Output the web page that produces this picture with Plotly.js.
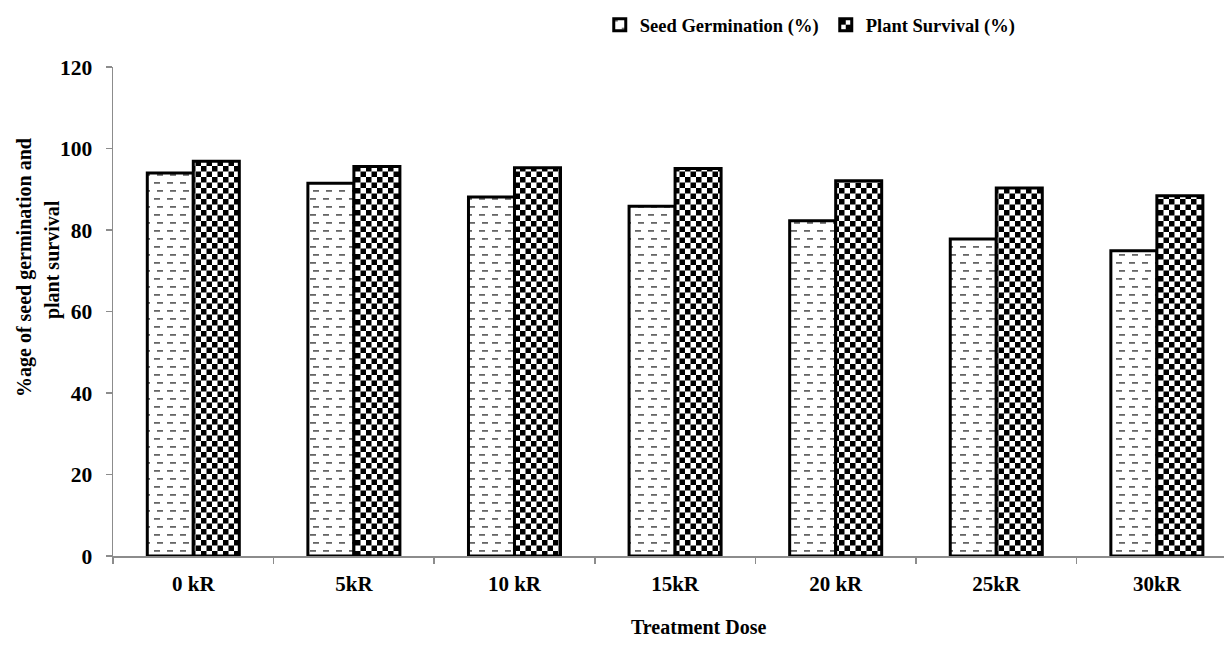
<!DOCTYPE html>
<html>
<head>
<meta charset="utf-8">
<script src="https://cdn.plot.ly/plotly-3.0.1.min.js"></script>
<style>html,body{margin:0;padding:0;background:#fff;}#chart{width:1224px;height:645px;}</style>
</head>
<body>
<div id="chart"></div>
<script>
const categories = ["0 kR", "5kR", "10 kR", "15kR", "20 kR", "25kR", "30kR"];
const seedGermination = [94.0, 91.5, 88.1, 85.8, 82.3, 77.8, 74.9];
const plantSurvival = [96.9, 95.6, 95.3, 95.1, 92.1, 90.3, 88.4];
const yTicks = [0, 20, 40, 60, 80, 100, 120];
const seriesNames = ["Seed Germination (%)", "Plant Survival (%)"];
const yTitleLines = ["%age of seed germination and", "plant survival"];
const xTitle = "Treatment Dose";

const FONT = "Liberation Serif, Times New Roman, serif";

const traces = [
  {
    type: "bar",
    name: seriesNames[0],
    x: categories,
    y: seedGermination,
    marker: {
      color: "#ffffff",
      line: {color: "#000000", width: 3},
      pattern: {shape: "-", fgcolor: "#777777", bgcolor: "#ffffff", size: 8, solidity: 0.15, fillmode: "overlay"}
    },
    hoverinfo: "skip"
  },
  {
    type: "bar",
    name: seriesNames[1],
    x: categories,
    y: plantSurvival,
    marker: {
      color: "#ffffff",
      line: {color: "#000000", width: 3},
      pattern: {shape: ".", fgcolor: "#000000", bgcolor: "#ffffff", size: 7, solidity: 0.45, fillmode: "overlay"}
    },
    hoverinfo: "skip"
  }
];

const titleFont = {family: FONT, size: 20, color: "#000000", weight: "bold"};

const layout = {
  width: 1224,
  height: 645,
  margin: {l: 113, r: 0, t: 67, b: 89, pad: 0},
  paper_bgcolor: "#ffffff",
  plot_bgcolor: "#ffffff",
  barmode: "group",
  bargap: 0.427,
  bargroupgap: 0,
  font: {family: FONT, color: "#000000"},
  showlegend: true,
  legend: {
    orientation: "h",
    xref: "container", yref: "container",
    x: 0.49, y: 0.961, xanchor: "left", yanchor: "middle",
    font: {family: FONT, size: 18.5, color: "#000000", weight: "bold"},
    bgcolor: "rgba(0,0,0,0)",
    entrywidth: 181,
    itemwidth: 30,
    traceorder: "normal"
  },
  xaxis: {
    type: "category",
    range: [-0.5, 6.418],
    showline: true,
    linecolor: "#8c8c8c",
    linewidth: 1.5,
    ticks: "outside",
    tickson: "boundaries",
    ticklen: 6,
    tickcolor: "#8c8c8c",
    tickwidth: 1.5,
    ticklabelstandoff: 8,
    showgrid: false,
    zeroline: false,
    tickfont: {family: FONT, size: 21, color: "#000000", weight: "bold"}
  },
  yaxis: {
    range: [0, 120],
    tickvals: yTicks,
    ticktext: yTicks.map(String),
    showline: true,
    linecolor: "#8c8c8c",
    linewidth: 1.5,
    ticks: "outside",
    ticklen: 6,
    tickcolor: "#8c8c8c",
    tickwidth: 1.5,
    ticklabelstandoff: 9,
    showgrid: false,
    zeroline: false,
    tickfont: {family: FONT, size: 21.5, color: "#000000", weight: "bold"}
  },
  annotations: [
    {text: yTitleLines[0], xref: "paper", yref: "paper", x: -0.0792, y: 0.589, textangle: -90,
     xanchor: "center", yanchor: "middle", showarrow: false, font: titleFont},
    {text: yTitleLines[1], xref: "paper", yref: "paper", x: -0.0545, y: 0.606, textangle: -90,
     xanchor: "center", yanchor: "middle", showarrow: false, font: titleFont},
    {text: xTitle, xref: "paper", yref: "paper", x: 0.527, y: -0.145,
     xanchor: "center", yanchor: "middle", showarrow: false, font: titleFont}
  ]
};

const SVGNS = "http://www.w3.org/2000/svg";
function el(tag, attrs, parent) {
  const e = document.createElementNS(SVGNS, tag);
  for (const k in attrs) e.setAttribute(k, attrs[k]);
  if (parent) parent.appendChild(e);
  return e;
}

Plotly.newPlot("chart", traces, layout, {displayModeBar: false, staticPlot: true}).then(function (gd) {
  const svg = gd.querySelector("svg.main-svg");
  let defs = svg.querySelector("defs");
  if (!defs) defs = el("defs", {}, svg);

  // checkerboard fill
  const chk = el("pattern", {id: "checkerPat", patternUnits: "userSpaceOnUse", width: 11, height: 11}, defs);
  el("rect", {x: 0, y: 0, width: 11, height: 11, fill: "#ffffff"}, chk);
  el("rect", {x: 0, y: 0, width: 5.5, height: 5.5, fill: "#000000"}, chk);
  el("rect", {x: 5.5, y: 5.5, width: 5.5, height: 5.5, fill: "#000000"}, chk);

  // dashed-line fill
  const dsh = el("pattern", {id: "dashPat", patternUnits: "userSpaceOnUse", width: 13, height: 16}, defs);
  el("rect", {x: 0, y: 0, width: 13, height: 16, fill: "#ffffff"}, dsh);
  el("rect", {x: 2, y: 3, width: 6, height: 1.8, fill: "#666666"}, dsh);
  el("rect", {x: 5, y: 11, width: 6, height: 1.8, fill: "#666666"}, dsh);

  const fills = ["url(#dashPat)", "url(#checkerPat)"];
  const barTraces = gd.querySelectorAll(".barlayer .trace");
  barTraces.forEach(function (t, i) {
    t.querySelectorAll("path").forEach(function (p) { p.style.fill = fills[i]; });
  });
  const legTraces = gd.querySelectorAll(".legend .traces");
  legTraces.forEach(function (t, i) {
    t.querySelectorAll(".legendpoints path").forEach(function (p) { p.style.fill = fills[i]; });
  });
});
</script>
</body>
</html>
